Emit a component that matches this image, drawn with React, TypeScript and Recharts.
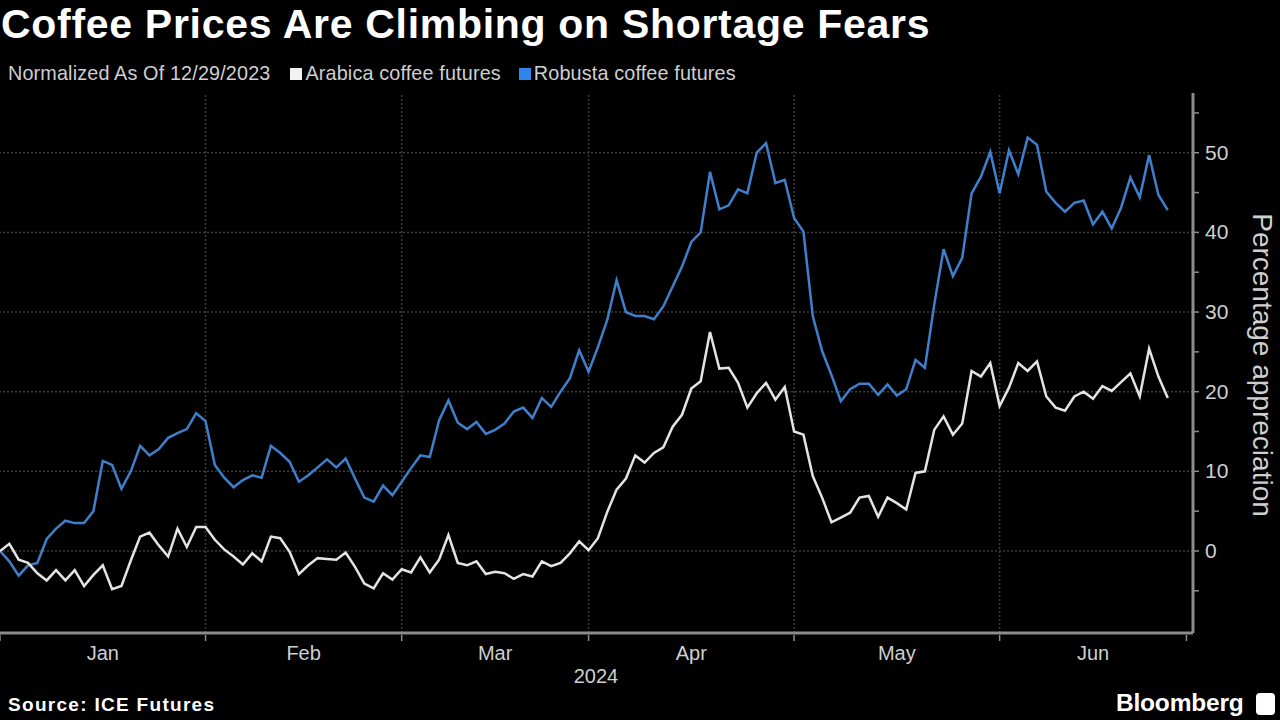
import React from "react";
import { LineChart, Line, XAxis, YAxis, ReferenceLine } from "recharts";

// Trading-day index 0 = 12/29/2023 (normalization base)
const arabica = [
  0, 0.9, -1.1, -1.5, -2.8, -3.7, -2.4, -3.7, -2.4, -4.4,
  -3, -1.8, -4.8, -4.4, -1.2, 1.8, 2.3, 0.7, -0.7, 2.8,
  0.5, 3, 3, 1.4, 0.2, -0.7, -1.7, -0.3, -1.3, 1.8,
  1.6, -0.1, -2.9, -1.8, -0.9, -1, -1.1, -0.2, -2, -4.1,
  -4.7, -2.8, -3.6, -2.3, -2.7, -0.8, -2.7, -1.1, 2, -1.5,
  -1.8, -1.3, -2.9, -2.6, -2.8, -3.5, -2.9, -3.2, -1.3, -1.9,
  -1.5, -0.3, 1.2, 0.1, 1.6, 4.9, 7.7, 9.1, 12, 11.1,
  12.3, 13, 15.6, 17.1, 20.4, 21.3, 27.5, 22.9, 23, 21.1,
  18, 19.8, 21.1, 19, 20.6, 15, 14.6, 9.4, 6.7, 3.6,
  4.2, 4.8, 6.7, 6.9, 4.3, 6.7, 6.0, 5.2, 9.8, 10,
  15.2, 16.9, 14.6, 16, 22.6, 21.9, 23.6, 18.2, 20.5, 23.6,
  22.6, 23.8, 19.4, 18, 17.6, 19.4, 20, 19.1, 20.7, 20.1,
  21.2, 22.3, 19.4, 25.4, 21.9, 19.2,
];

const robusta = [
  0, -1.3, -3.1, -1.8, -1.5, 1.5, 2.8, 3.8, 3.5, 3.5,
  5, 11.3, 10.8, 7.8, 10, 13.2, 12, 12.8, 14.2, 14.8,
  15.3, 17.3, 16.3, 10.8, 9.2, 8, 8.9, 9.5, 9.2, 13.2,
  12.3, 11.2, 8.7, 9.5, 10.5, 11.5, 10.5, 11.6, 9.1, 6.7,
  6.2, 8.2, 7, 8.7, 10.4, 12, 11.8, 16.4, 18.9, 16.1,
  15.3, 16.2, 14.7, 15.2, 16, 17.5, 18, 16.7, 19.2, 18.1,
  20, 21.7, 25.2, 22.5, 25.6, 29, 34, 30, 29.5, 29.5,
  29.1, 30.7, 33.2, 35.7, 38.8, 40, 47.6, 42.9, 43.4, 45.4,
  44.9, 50, 51.2, 46.2, 46.6, 41.8, 40.1, 29.5, 25.1, 22.1,
  18.8, 20.3, 21, 21, 19.6, 20.9, 19.5, 20.3, 24, 23,
  30.9, 37.9, 34.5, 36.8, 44.9, 47, 50.1, 44.9, 50.3, 47.3,
  51.9, 51, 45.1, 43.7, 42.6, 43.7, 44, 41, 42.6, 40.5,
  43.1, 46.9, 44.4, 49.7, 44.7, 42.8,
];

// first trading-day index of each month, plus the end of June
const monthStarts = [0, 22, 43, 63, 85, 107, 127];
const monthLabels = ["Jan", "Feb", "Mar", "Apr", "May", "Jun"];
const yLabelTicks = [0, 10, 20, 30, 40, 50];
const yMinorTicks = [-5, 0, 5, 10, 15, 20, 25, 30, 35, 40, 45, 50, 55];

const data = arabica.map((v, i) => ({ idx: i, arabica: v, robusta: robusta[i] }));

const monthMids = monthLabels.map((_, i) => (monthStarts[i] + monthStarts[i + 1]) / 2);
const xTicks = [...monthStarts, ...monthMids].sort((a, b) => a - b);

const TXT = "#cfcfcf";
const GRID = "#3c3c3c";
const AXIS = "#8c8c8c";
const FONT = "'Liberation Sans', Arial, sans-serif";

const XTick = (props: any) => {
  const { x, y, payload } = props;
  const mi = monthMids.indexOf(payload.value);
  if (mi >= 0) {
    return (
      <text x={x} y={y + 25} textAnchor="middle" fill={TXT} fontSize={20} fontFamily={FONT}>
        {monthLabels[mi]}
      </text>
    );
  }
  return <line x1={x} x2={x} y1={y} y2={y + 6} stroke={AXIS} strokeWidth={1.5} />;
};

const YTick = (props: any) => {
  const { x, y, payload } = props;
  if (!yLabelTicks.includes(payload.value)) return <g />;
  return (
    <text x={x + 4} y={y + 7} textAnchor="start" fill={TXT} fontSize={21} fontFamily={FONT}>
      {payload.value}
    </text>
  );
};

export default function App() {
  return (
    <div
      style={{
        position: "fixed",
        left: 0,
        top: 0,
        width: 1280,
        height: 720,
        background: "#000",
        overflow: "hidden",
        fontFamily: FONT,
      }}
    >
      <div
        style={{
          position: "absolute",
          left: 1,
          top: 1,
          color: "#fff",
          fontSize: 41,
          fontWeight: 700,
          letterSpacing: 0.7,
          whiteSpace: "nowrap",
        }}
      >
        Coffee Prices Are Climbing on Shortage Fears
      </div>

      <div
        style={{
          position: "absolute",
          left: 8,
          top: 62,
          color: TXT,
          fontSize: 19.8,
          letterSpacing: 0.15,
          display: "flex",
          alignItems: "center",
          whiteSpace: "nowrap",
        }}
      >
        <span>Normalized As Of 12/29/2023</span>
        <span style={{ display: "inline-block", width: 12, height: 12, background: "#f2f2f2", marginLeft: 20, marginRight: 3 }} />
        <span>Arabica coffee futures</span>
        <span style={{ display: "inline-block", width: 12, height: 12, background: "#2f86ea", marginLeft: 18, marginRight: 3 }} />
        <span>Robusta coffee futures</span>
      </div>

      <div style={{ position: "absolute", left: 0, top: 0 }}>
        <LineChart width={1280} height={720} data={data} margin={{ top: 93, right: 0, left: 0, bottom: 47 }}>
          <XAxis
            dataKey="idx"
            type="number"
            domain={[0, 127.7]}
            ticks={xTicks}
            interval={0}
            allowDataOverflow
            height={40}
            tickSize={0}
            tickLine={false}
            tick={<XTick />}
            axisLine={{ stroke: AXIS, strokeWidth: 3 }}
          />
          <YAxis
            orientation="right"
            type="number"
            domain={[-10.3, 57.5]}
            allowDataOverflow
            ticks={yMinorTicks}
            interval={0}
            width={87}
            tickSize={6}
            tickLine={{ stroke: AXIS, strokeWidth: 1.5 }}
            tick={<YTick />}
            axisLine={{ stroke: AXIS, strokeWidth: 3 }}
          />
          {yLabelTicks.map((v) => (
            <ReferenceLine key={`h${v}`} y={v} stroke={GRID} strokeWidth={1.5} strokeDasharray="2 2" />
          ))}
          {monthStarts.slice(1, 6).map((v) => (
            <ReferenceLine key={`v${v}`} x={v} stroke={GRID} strokeWidth={1.5} strokeDasharray="2 2" />
          ))}
          <Line
            type="linear"
            dataKey="robusta"
            stroke="#3f7fcc"
            strokeWidth={2.5}
            dot={false}
            isAnimationActive={false}
          />
          <Line
            type="linear"
            dataKey="arabica"
            stroke="#e4e4e4"
            strokeWidth={2.5}
            dot={false}
            isAnimationActive={false}
          />
        </LineChart>
      </div>

      <div
        style={{
          position: "absolute",
          left: 1262,
          top: 365,
          transform: "translate(-50%, -50%) rotate(90deg)",
          color: TXT,
          fontSize: 28,
          whiteSpace: "nowrap",
        }}
      >
        Percentage appreciation
      </div>

      <div style={{ position: "absolute", left: 596, top: 665, transform: "translateX(-50%)", color: TXT, fontSize: 20 }}>
        2024
      </div>

      <div
        style={{
          position: "absolute",
          left: 8,
          top: 694,
          color: "#fff",
          fontSize: 19,
          fontWeight: 700,
          letterSpacing: 1.3,
        }}
      >
        Source: ICE Futures
      </div>

      <div
        style={{
          position: "absolute",
          left: 1116,
          top: 689,
          color: "#fff",
          fontSize: 24.5,
          fontWeight: 700,
          letterSpacing: -0.2,
        }}
      >
        Bloomberg
      </div>
      <div
        style={{
          position: "absolute",
          left: 1256,
          top: 693,
          width: 19,
          height: 22,
          borderRadius: 4,
          background: "#fff",
        }}
      />
    </div>
  );
}
